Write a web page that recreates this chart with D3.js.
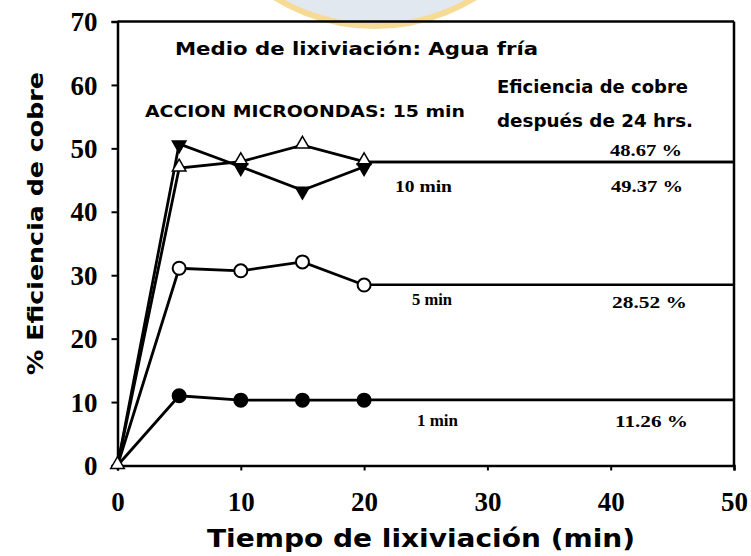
<!DOCTYPE html>
<html><head><meta charset="utf-8">
<script src="https://cdn.jsdelivr.net/npm/d3@7"></script>
<style>body{margin:0;background:#fff}svg{display:block}</style>
</head><body>
<svg id="c" width="751" height="556"></svg>
<script>
const times = [0, 5, 10, 15, 20];
const s1min = [0, 11.0, 10.3, 10.3, 10.3];
const s5min = [0, 31.1, 30.7, 32.1, 28.45];
const s10min = [0, 46.9, 47.9, 50.5, 47.9];
const s15min = [0, 50.7, 47.1, 43.4, 47.1];
const plateauEnd = 50;
const plateau1 = 10.35;
const plateau5 = 28.5;
const plateau10 = 47.85;
const xTicks = [0, 10, 20, 30, 40, 50];
const yTicks = [0, 10, 20, 30, 40, 50, 60, 70];
const finalLabels = ["48.67 %", "49.37 %", "28.52 %", "11.26 %"];
const timeLabels = ["10 min", "5 min", "1 min"];

const svg = d3.select("#c");
const x = d3.scaleLinear().domain([0, 50]).range([117.5, 734]);
const y = d3.scaleLinear().domain([0, 70]).range([465.5, 21.5]);

// watermark
svg.append("circle").attr("cx", 375).attr("cy", -164).attr("r", 190)
  .attr("fill", "#dfe6ef").attr("stroke", "#f6d88a").attr("stroke-width", 6).attr("opacity", 0.9);

// frame
svg.append("line").attr("x1", x(0)).attr("x2", x(50)).attr("y1", y(70)).attr("y2", y(70))
  .attr("stroke", "#000").attr("stroke-width", 2.5);
svg.append("line").attr("x1", x(50)).attr("x2", x(50)).attr("y1", y(70)).attr("y2", y(0))
  .attr("stroke", "#000").attr("stroke-width", 2.5);

const serif = "'Liberation Serif','Times New Roman',serif";
const sans = "'DejaVu Sans',Verdana,sans-serif";

const xAxis = svg.append("g").attr("transform", `translate(0,${y(0)})`)
  .call(d3.axisBottom(x).tickValues(xTicks).tickSize(5).tickPadding(21).tickFormat(d3.format("d")));
const yAxis = svg.append("g").attr("transform", `translate(${x(0)},0)`)
  .call(d3.axisLeft(y).tickValues(yTicks).tickSize(6).tickPadding(14).tickFormat(d3.format("d")));
[xAxis, yAxis].forEach(g => {
  g.select(".domain").attr("stroke", "#000").attr("stroke-width", 2.5);
  g.selectAll(".tick line").attr("stroke", "#000").attr("stroke-width", 2);
  g.selectAll(".tick text").attr("fill", "#000").style("font-family", serif)
    .style("font-weight", "bold").style("font-size", "27px");
});
yAxis.selectAll(".tick text").attr("dy", "0.34em");

// lines
const line = d3.line().x(d => x(d[0])).y(d => y(d[1]));
function series(vals, plateau) {
  const pts = times.map((t, i) => [t, vals[i]]);
  return { pts, plat: [[times[times.length - 1], plateau], [plateauEnd, plateau]] };
}
const S = [
  { name: "1 min", ...series(s1min, plateau1), marker: "circle", fill: "#000" },
  { name: "5 min", ...series(s5min, plateau5), marker: "circle", fill: "#fff" },
  { name: "10 min", ...series(s10min, plateau10), marker: "tri", fill: "#fff" },
  { name: "15 min", ...series(s15min, plateau10), marker: "itri", fill: "#000" }
];
S.forEach(s => {
  svg.append("path").attr("d", line(s.pts)).attr("fill", "none").attr("stroke", "#000").attr("stroke-width", 2.8);
  svg.append("path").attr("d", line(s.plat)).attr("fill", "none").attr("stroke", "#000").attr("stroke-width", 2.6);
});
const tri = d3.symbol().type(d3.symbolTriangle).size(80);
S.forEach(s => {
  const pts = s.marker === "tri" ? s.pts : s.pts.slice(1);
  const g = svg.append("g");
  pts.forEach(p => {
    if (s.marker === "circle") {
      g.append("circle").attr("cx", x(p[0])).attr("cy", y(p[1])).attr("r", 6.5)
        .attr("fill", s.fill).attr("stroke", "#000").attr("stroke-width", 2);
    } else {
      g.append("path").attr("d", tri())
        .attr("transform", `translate(${x(p[0])},${y(p[1]) + (s.marker === "tri" ? -1 : 1)}) rotate(${s.marker === "tri" ? 0 : 180})`)
        .attr("fill", s.fill).attr("stroke", "#000").attr("stroke-width", 1.5);
    }
  });
});

// annotations
function txt(t, xx, yy, fam, size, len) {
  const e = svg.append("text").attr("x", xx).attr("y", yy).text(t).attr("fill", "#000")
    .style("font-family", fam).style("font-weight", "bold").style("font-size", size + "px");
  if (len) e.attr("textLength", len).attr("lengthAdjust", "spacingAndGlyphs");
  return e;
}
txt("Medio de lixiviación: Agua fría", 175, 55, sans, 17.5, 363);
txt("ACCION MICROONDAS: 15 min", 145, 117, sans, 16.5, 320);
txt("Eficiencia de cobre", 497, 93, sans, 17, 191);
txt("después de 24 hrs.", 497, 127, sans, 17, 196);
txt(finalLabels[0], 610, 156, serif, 17.5, 72);
txt(finalLabels[1], 611, 192, serif, 17.5, 72);
txt(finalLabels[2], 612, 308, serif, 17.5, 75);
txt(finalLabels[3], 615, 427, serif, 17.5, 73);
txt(timeLabels[0], 395, 192, serif, 17.5, 57);
txt(timeLabels[1], 412, 305, serif, 17.5, 40);
txt(timeLabels[2], 417, 426, serif, 17.5, 41);

// axis titles
txt("Tiempo de lixiviación (min)", 207, 547, sans, 24, 428);
svg.append("text").attr("transform", "translate(43,375) rotate(-90)")
  .text("% Eficiencia de cobre").style("font-family", sans).style("font-weight", "bold")
  .style("font-size", "22px").attr("fill", "#000")
  .attr("textLength", 303).attr("lengthAdjust", "spacingAndGlyphs");
</script>
</body></html>
